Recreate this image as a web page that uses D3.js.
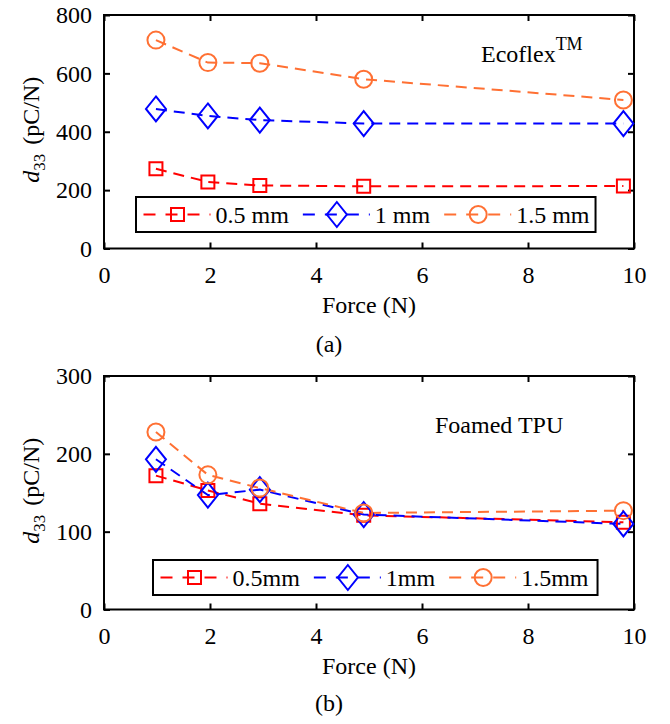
<!DOCTYPE html>
<meta charset="utf-8">
<script src="https://d3js.org/d3.v7.min.js"></script>
<body style="margin:0">
<svg width="670" height="724"></svg>

<script>
    // force = mass * g
    var force = [0.98, 1.96, 2.94, 4.9, 9.8];
    var xTicks = [0, 2, 4, 6, 8, 10];

    // panel (a) Ecoflex
    var eco05 = [273, 228, 216, 213, 214];
    var eco1 = [478, 454, 440, 428, 428];
    var eco15 = [714, 637, 635, 580, 509];
    var ecoTicks = [0, 200, 400, 600, 800];
    var ecoNames = ["0.5 mm", "1 mm", "1.5 mm"];

    // panel (b) foamed TPU
    var tpu05 = [172, 153, 136, 121, 112];
    var tpu1 = [193, 147, 154, 122, 110];
    var tpu15 = [228, 173, 156, 124, 127];
    var tpuTicks = [0, 100, 200, 300];
    var tpuNames = ["0.5mm", "1mm", "1.5mm"];

    var colors = ["#ff0000", "#0000ff", "#ff7033"];
    var shapes = ["square", "diamond", "circle"];
    var serif = "Liberation Serif";

    var svg = d3.select("svg");
    var left = 104, right = 634, plotH = 233.5;

    var x = d3.scaleLinear().domain([0, 10]).range([left, right]);

    function markerPath(shape) {
        if (shape == "square") return "M-6.5,-6.5H6.5V6.5H-6.5Z";
        if (shape == "diamond") return "M0,-12.5L10,0L0,12.5L-10,0Z";
        var r = 8.5;
        return "M" + r + ",0A" + r + "," + r + " 0 1,1 " + (-r) + ",0A" + r + "," + r + " 0 1,1 " + r + ",0Z";
    }

    function txt(sel) {
        return sel.attr("font-family", serif).attr("font-size", 24).attr("fill", "#000");
    }

    function axisStyle(a) {
        a.attr("font-family", serif).attr("font-size", 24);
        a.select(".domain").remove();
        a.selectAll("text").attr("font-family", serif).attr("font-size", 24).attr("fill", "#000");
        a.selectAll("line").attr("stroke", "#000").attr("stroke-width", 2);
    }

    function drawPanel(top, yMax, yTicks, series, names, legendLeft, legendTop, legendPadR) {
        var bottom = top + plotH;
        var y = d3.scaleLinear().domain([0, yMax]).range([bottom, top]);
        var g = svg.append("g");

        // axes with inward ticks on all four sides
        g.append("g").attr("transform", "translate(0," + bottom + ")")
            .call(d3.axisBottom(x).tickValues(xTicks).tickSizeInner(-6).tickSizeOuter(0).tickPadding(17))
            .call(axisStyle);
        g.append("g").attr("transform", "translate(0," + top + ")")
            .call(d3.axisTop(x).tickValues(xTicks).tickSizeInner(-6).tickSizeOuter(0).tickFormat(""))
            .call(axisStyle);
        g.append("g").attr("transform", "translate(" + left + ",0)")
            .call(d3.axisLeft(y).tickValues(yTicks).tickSizeInner(-6).tickSizeOuter(0).tickPadding(12))
            .call(axisStyle);
        g.append("g").attr("transform", "translate(" + right + ",0)")
            .call(d3.axisRight(y).tickValues(yTicks).tickSizeInner(-6).tickSizeOuter(0).tickFormat(""))
            .call(axisStyle);

        g.append("rect")
            .attr("x", left).attr("y", top)
            .attr("width", right - left).attr("height", plotH)
            .attr("fill", "none").attr("stroke", "#000").attr("stroke-width", 2);

        // data lines and markers
        var line = d3.line()
            .x(function (d, i) { return x(force[i]); })
            .y(function (d) { return y(d); });

        series.forEach(function (s, k) {
            g.append("path")
                .attr("d", line(s))
                .attr("fill", "none")
                .attr("stroke", colors[k])
                .attr("stroke-width", 2)
                .attr("stroke-dasharray", "11,7");
        });
        series.forEach(function (s, k) {
            g.selectAll(null).data(s).enter().append("path")
                .attr("transform", function (d, i) { return "translate(" + x(force[i]) + "," + y(d) + ")"; })
                .attr("d", markerPath(shapes[k]))
                .attr("fill", "none")
                .attr("stroke", colors[k])
                .attr("stroke-width", 2);
        });

        // y label
        var yl = g.append("text")
            .attr("transform", "translate(39," + ((top + bottom) / 2 - 2) + ") rotate(-90)")
            .attr("text-anchor", "middle")
            .call(txt);
        yl.append("tspan").attr("font-style", "italic").text("d");
        yl.append("tspan").attr("font-size", 17).attr("dy", 6).text("33");
        yl.append("tspan").attr("dy", -6).attr("dx", 9).text("(pC/N)");

        // x label
        g.append("text")
            .attr("x", (left + right) / 2).attr("y", bottom + 64)
            .attr("text-anchor", "middle")
            .call(txt)
            .text("Force (N)");

        // legend
        var lg = g.append("g");
        var box = lg.append("rect")
            .attr("y", legendTop).attr("height", 35)
            .attr("fill", "#fff").attr("stroke", "#000").attr("stroke-width", 2);
        var cx = legendLeft + 7.5;
        var midY = legendTop + 17.5;
        var textEnd = cx;
        names.forEach(function (name, k) {
            lg.append("line")
                .attr("x1", cx).attr("x2", cx + 67)
                .attr("y1", midY).attr("y2", midY)
                .attr("stroke", colors[k]).attr("stroke-width", 2)
                .attr("stroke-dasharray", "12,10");
            lg.append("path")
                .attr("transform", "translate(" + (cx + 34) + "," + midY + ")")
                .attr("d", markerPath(shapes[k]))
                .attr("fill", "none").attr("stroke", colors[k]).attr("stroke-width", 2);
            var t = lg.append("text")
                .attr("x", cx + 72).attr("y", midY + 8.5)
                .call(txt)
                .text(name);
            var w = t.node().getComputedTextLength();
            textEnd = cx + 72 + w;
            cx = textEnd + 14;
        });
        box.attr("x", legendLeft).attr("width", textEnd + legendPadR - legendLeft);

        return g;
    }

    var ga = drawPanel(15, 800, ecoTicks, [eco05, eco1, eco15], ecoNames, 136, 197, 6);
    var note = ga.append("text").attr("x", 481).attr("y", 61.7).call(txt);
    note.append("tspan").text("Ecoflex");
    note.append("tspan").attr("font-size", 18).attr("dy", -12).text("TM");
    ga.append("text").attr("x", 329).attr("y", 352).attr("text-anchor", "middle").call(txt).text("(a)");

    var gb = drawPanel(376, 300, tpuTicks, [tpu05, tpu1, tpu15], tpuNames, 153, 560, 9);
    gb.append("text").attr("x", 435).attr("y", 433).call(txt).text("Foamed TPU");
    gb.append("text").attr("x", 329).attr("y", 711).attr("text-anchor", "middle").call(txt).text("(b)");
</script>
</body>
